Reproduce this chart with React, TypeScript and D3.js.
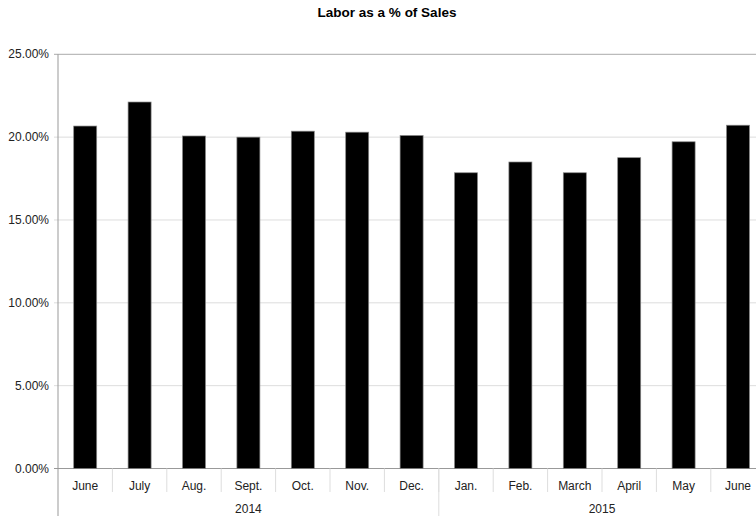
import React from "react";
import * as d3 from "d3";

const months = ["June", "July", "Aug.", "Sept.", "Oct.", "Nov.", "Dec.", "Jan.", "Feb.", "March", "April", "May", "June"];
const years = ["2014", "2014", "2014", "2014", "2014", "2014", "2014", "2015", "2015", "2015", "2015", "2015", "2015"];
const values = [20.67, 22.12, 20.07, 20.0, 20.36, 20.3, 20.1, 17.85, 18.5, 17.85, 18.76, 19.72, 20.72];
const yTicks = [0, 5, 10, 15, 20, 25];
const title = "Labor as a % of Sales";

const W = 756;
const H = 516;
const left = 58;
const top = 54.3;
const bottom = 468.5;
const step = 54.4;

export default function App() {
  const ids = months.map((_, i) => String(i));
  const x = d3
    .scaleBand<string>()
    .domain(ids)
    .range([left, left + step * months.length])
    .paddingInner(0.577)
    .paddingOuter(0.577 / 2);
  const y = d3.scaleLinear().domain([0, 25]).range([bottom, top]);
  const font = "'Liberation Sans', Arial, Helvetica, sans-serif";

  const groups: { year: string; start: number; end: number }[] = [];
  years.forEach((yr, i) => {
    const g = groups[groups.length - 1];
    if (g && g.year === yr) g.end = i;
    else groups.push({ year: yr, start: i, end: i });
  });
  const catStart = (i: number) => left + i * step;

  return (
    <svg width={W} height={H} style={{ position: "absolute", left: 0, top: 0, background: "#fff" }} fontFamily={font}>
      <rect x={0} y={0} width={W} height={H} fill="#fff" />
      <text x={387} y={17} textAnchor="middle" fontSize={13.5} fontWeight="bold" fill="#000">
        {title}
      </text>
      {yTicks.map((t) => (
        <g key={t}>
          <line
            x1={left - 4}
            x2={left + step * months.length}
            y1={y(t)}
            y2={y(t)}
            stroke={t === 25 ? "#aaa" : t === 0 ? "#999" : "#ddd"}
            strokeWidth={1}
          />
          <text x={49} y={y(t) + 4} textAnchor="end" fontSize={12} fill="#222">
            {t.toFixed(2) + "%"}
          </text>
        </g>
      ))}
      {values.map((v, i) => (
        <rect
          key={i}
          x={x(String(i))!}
          y={y(v)}
          width={x.bandwidth()}
          height={y(0) - y(v)}
          fill="#000"
          stroke="#888"
          strokeWidth={0.7}
        />
      ))}
      <line x1={left} x2={left} y1={top} y2={H} stroke="#999" strokeWidth={1} />
      {months.map((m, i) => (
        <g key={"m" + i}>
          {i > 0 && <line x1={catStart(i)} x2={catStart(i)} y1={bottom} y2={492} stroke="#ddd" />}
          <text x={x(String(i))! + x.bandwidth() / 2} y={490} textAnchor="middle" fontSize={12} fill="#222">
            {m}
          </text>
        </g>
      ))}
      {groups.map((g, gi) => (
        <g key={"g" + gi}>
          {gi > 0 && <line x1={catStart(g.start)} x2={catStart(g.start)} y1={bottom} y2={H} stroke="#ddd" />}
          <text
            x={(catStart(g.start) + catStart(g.end + 1)) / 2}
            y={513}
            textAnchor="middle"
            fontSize={12}
            fill="#222"
          >
            {g.year}
          </text>
        </g>
      ))}
    </svg>
  );
}
